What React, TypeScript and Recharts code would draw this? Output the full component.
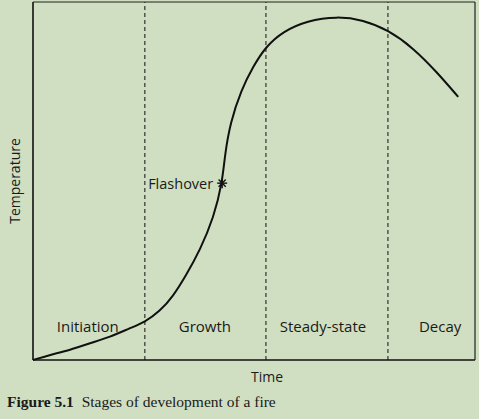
import React from 'react';
import { ComposedChart, Line, Scatter, XAxis, YAxis, ReferenceLine } from 'recharts';

// fire curve, time vs temperature (0-100 both ways)
const curveTime = [0, 3.8, 8.4, 12.9, 17.4, 21.9, 25.3, 28.7, 31.7, 34.6, 37.8, 40.9, 42.8, 43.4, 44.6, 47.1, 49.8, 52.7, 56.6, 62.0, 68.8, 74.7, 80.3, 86.0, 91.4, 96.2];
const curveTemp = [0, 1.4, 2.8, 4.7, 6.4, 8.9, 10.6, 13.6, 17.8, 23.6, 30.7, 39.9, 49.4, 57.2, 66.2, 75.4, 82.0, 87.6, 91.8, 94.8, 96.0, 95.0, 92.2, 87.2, 80.4, 73.5];

const stageBounds = [25.3, 52.7, 80.3];
const stageNames = ['Initiation', 'Growth', 'Steady-state', 'Decay'];
const stageCentres = [12.4, 38.9, 65.6, 92.1];
const stageLabelY = 9.5;

const flashover = [{ x: 42.8, y: 49.4, name: 'Flashover' }];

const curve = curveTime.map((t, i) => ({ x: t, y: curveTemp[i] }));
const stages = stageNames.map((n, i) => ({ x: stageCentres[i], y: stageLabelY, name: n }));

const sans = '"Open Sans", "DejaVu Sans", sans-serif';
const bg = '#d0dfc1';

function StageText(props: any) {
  const { cx, cy, payload } = props;
  return (
    <text x={cx} y={cy} textAnchor="middle" dominantBaseline="central" fontFamily={sans} fontSize={15} fill="#1a1a1a">
      {payload.name}
    </text>
  );
}

function Star(props: any) {
  const { cx, cy, payload } = props;
  const r = 5;
  const arms = [0, 45, 90, 135].map((a) => {
    const rad = (a * Math.PI) / 180;
    const dx = Math.cos(rad) * r;
    const dy = Math.sin(rad) * r;
    return <line key={a} x1={cx - dx} y1={cy - dy} x2={cx + dx} y2={cy + dy} stroke="#111" strokeWidth={1.4} />;
  });
  return (
    <g>
      {arms}
      <text x={cx - 9} y={cy} textAnchor="end" dominantBaseline="central" fontFamily={sans} fontSize={14.5} fill="#1a1a1a">
        {payload.name}
      </text>
    </g>
  );
}

export default function App() {
  return (
    <div style={{ position: 'absolute', left: 0, top: 0, width: 479, height: 419, background: bg, overflow: 'hidden' }}>
      <ComposedChart width={479} height={419} data={curve} margin={{ top: 2, right: 4, left: 33, bottom: 59 }}>
        <XAxis type="number" dataKey="x" domain={[0, 100]} hide />
        <YAxis type="number" dataKey="y" domain={[0, 100]} hide />
        {stageBounds.map((b) => (
          <ReferenceLine key={b} x={b} stroke="#333" strokeWidth={1.2} strokeDasharray="4 3" />
        ))}
        <ReferenceLine x={0} stroke="#111" strokeWidth={1.6} />
        <ReferenceLine y={0} stroke="#111" strokeWidth={1.6} />
        <ReferenceLine x={100} stroke="#222" strokeWidth={1.2} />
        <ReferenceLine y={100} stroke="#222" strokeWidth={1.2} />
        <Line type="basis" dataKey="y" stroke="#111" strokeWidth={2} dot={false} isAnimationActive={false} />
        <Scatter data={stages} shape={<StageText />} isAnimationActive={false} />
        <Scatter data={flashover} shape={<Star />} isAnimationActive={false} />
      </ComposedChart>
      <div style={{ position: 'absolute', left: 237, top: 367, width: 60, textAlign: 'center', fontFamily: sans, fontSize: 14, color: '#1a1a1a' }}>
        Time
      </div>
      <div
        style={{
          position: 'absolute',
          left: 14,
          top: 181,
          transform: 'translate(-50%, -50%) rotate(-90deg)',
          fontFamily: sans,
          fontSize: 14,
          color: '#1a1a1a',
          whiteSpace: 'nowrap',
        }}
      >
        Temperature
      </div>
      <div style={{ position: 'absolute', left: 7, top: 393, fontFamily: '"Liberation Serif", "Times New Roman", serif', fontSize: 15.5, color: '#1a1a1a', whiteSpace: 'nowrap' }}>
        <b>Figure 5.1</b>&nbsp; Stages of development of a fire
      </div>
    </div>
  );
}
